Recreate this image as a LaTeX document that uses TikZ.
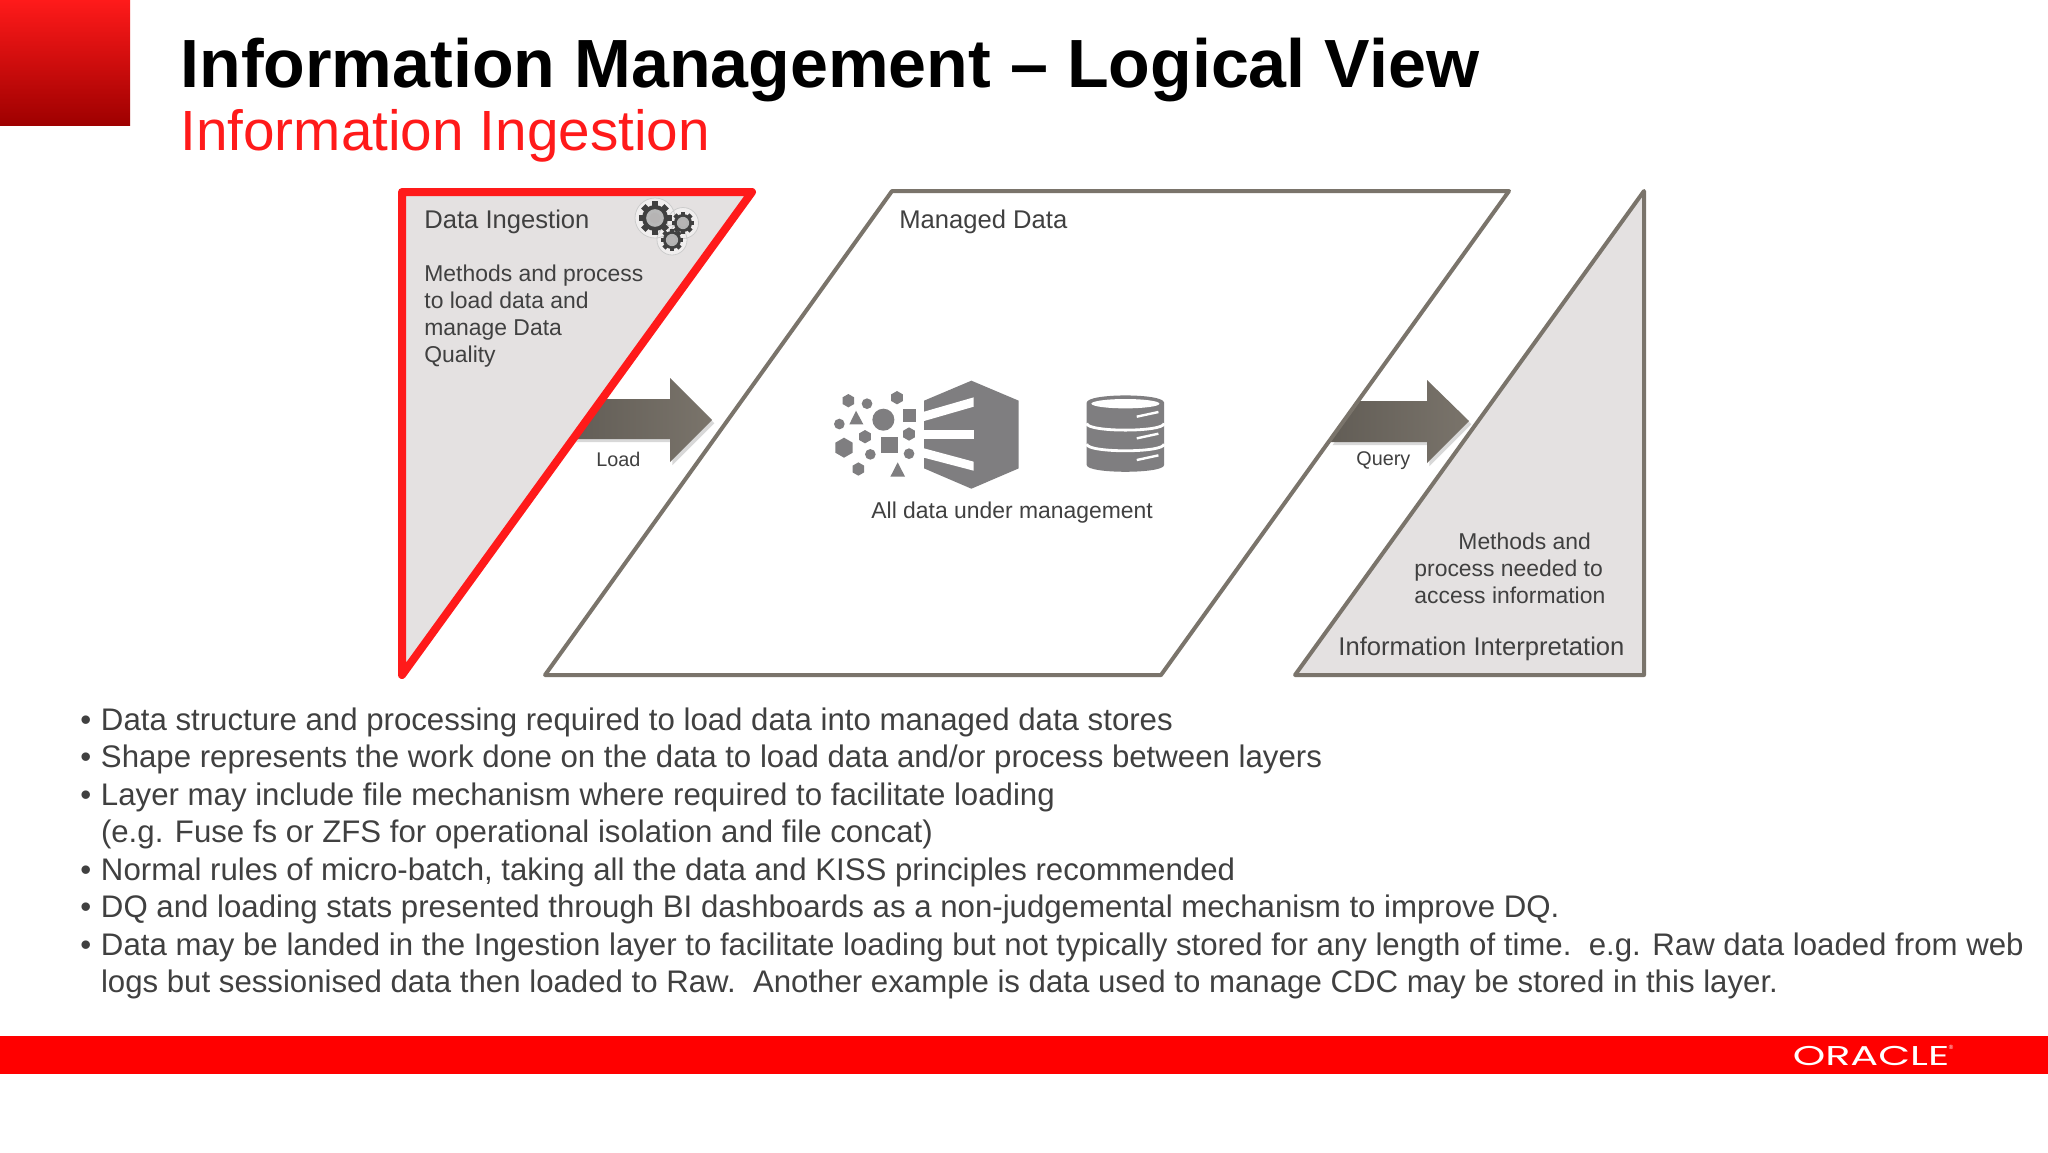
\documentclass[tikz,border=0pt]{standalone}
\usepackage{fontspec}
\setmainfont{Liberation Sans}
\newfontfamily\logofont{Poppins}
\usetikzlibrary{shadows}
\definecolor{oraclered}{RGB}{255,26,26}
\definecolor{shapegray}{RGB}{122,116,107}
\definecolor{panelgray}{RGB}{228,225,225}
\definecolor{icongray}{RGB}{127,126,128}
\definecolor{labelgray}{RGB}{64,64,64}
\tikzset{
  panel/.style={draw=shapegray,line width=2pt,line join=round},
  label12/.style={anchor=base west,inner sep=0pt,text=labelgray,font=\fontsize{12.8}{15}\selectfont},
  body12/.style={anchor=north west,inner sep=0pt,align=left,text=labelgray,font=\fontsize{11.45}{13.5}\selectfont},
  label10/.style={anchor=base west,inner sep=0pt,text=labelgray,font=\fontsize{9.9}{12}\selectfont},
  flowarrow/.style={left color=shapegray!80!black,right color=shapegray,drop shadow={shadow xshift=1.2pt,shadow yshift=-1.6pt,opacity=.3}},
}
\newcommand{\gearicon}[4]{% x, y, radius, hub colour
  \foreach \a in {0,45,...,315}
    \fill[black!75,shift={(#1,#2)},rotate=\a] (#3*.8,-#3*.24) rectangle (#3*1.27,#3*.24);
  \fill[black!75] (#1,#2) circle (#3);
  \fill[#4] (#1,#2) circle (#3*.68);
  \fill[panelgray!80!black] (#1,#2) circle (#3*.42);
}
\begin{document}
\begin{tikzpicture}[x=0.5pt,y=-0.5pt]
  \useasboundingbox[fill=white] (0,0) rectangle (2048,1152);
  % corner and footer
  \shade[top color=oraclered,bottom color=red!62!black] (0,0) rectangle (130,125);
  \fill[red] (0,1036) rectangle (2048,1074);
  \node (logo) [anchor=center,inner sep=0pt,text=white] at (1871,1056)
    {\logofont\scalebox{1.52}[1]{\fontsize{13.6}{14}\selectfont ORACLE}};
  \node (regmark) [anchor=center,inner sep=0pt,text=white,font=\fontsize{3}{3}\selectfont] at (1951,1047) {®};
  % titles
  \node (title) [anchor=base west,inner sep=0pt,font=\fontsize{34.1}{40}\bfseries] at (180,87)
    {Information Management – Logical View};
  \node (subtitle) [anchor=base west,inner sep=0pt,text=oraclered,font=\fontsize{28.35}{34}\selectfont] at (180,150)
    {Information Ingestion};
  % arrows
  \shade[flowarrow] (570,399) -- (670,399) -- (670,378) -- (712,420) -- (670,462) -- (670,439) -- (570,439) -- cycle;
  \shade[flowarrow] (1360,401) -- (1427,401) -- (1427,380) -- (1469,421) -- (1427,463) -- (1427,442) -- (1330,442) -- cycle;
  % panels
  \draw[panel,fill=panelgray,draw=oraclered,line width=4pt] (402,192) -- (752,192) -- (402,675) -- cycle;
  \draw[panel] (892,191) -- (1509,191) -- (1161,675) -- (545,675) -- cycle;
  \draw[panel,fill=panelgray] (1644,191) -- (1644,675) -- (1295,675) -- cycle;
  % panel texts
  \node (ingest) [label12] at (424,228) {Data Ingestion};
  \node (ingesttext) [body12] at (424,264) {Methods and process\\to load data and\\manage Data\\Quality};
  \node (managed) [label12] at (899,228) {Managed Data};
  \node (alldata) [label12,font=\fontsize{11.45}{14}\selectfont] at (871,518) {All data under management};
  \node (load) [label10] at (596,466) {Load};
  \node (query) [label10] at (1356,465) {Query};
  \node (interp) [body12] at (1414,532) {\hspace*{22pt}Methods and\\process needed to\\access information};
  \node (interptitle) [label12] at (1338,655) {Information Interpretation};
  % gears
  \fill[panelgray!55!white,draw=black!20,line width=.4pt] (655,218) circle (20) (683,223) circle (15.5) (672,240) circle (15);
  \gearicon{655}{218}{13}{black!28}
  \gearicon{683}{223}{9}{black!30}
  \gearicon{672}{240}{9}{black!30}
  % data shapes
  \begin{scope}[shift={(800,360)},x=0.1667pt,y=-0.1667pt]
    \fill[icongray] (372,122) -- (514,62) -- (656,122) -- (656,325) -- (514,386) -- (372,325) -- cycle;
    \fill[white] (372,155) -- (521,112) -- (521,140) -- (372,183) -- cycle;
    \fill[white] (372,210) rectangle (521,238);
    \fill[white] (372,265) -- (521,305) -- (521,332) -- (372,293) -- cycle;
    \foreach \px/\py/\r in {145/122/20,291/113/20,195/230/20,327/222/20,132/263/30,175/327/20}
      \fill[icongray] (\px,\py-\r) -- (\px+.87*\r,\py-.5*\r) -- (\px+.87*\r,\py+.5*\r) -- (\px,\py+\r) -- (\px-.87*\r,\py+.5*\r) -- (\px-.87*\r,\py-.5*\r) -- cycle;
    \foreach \px/\py/\r in {201/131/16,118/192/16,250/179/33,211/283/16,327/281/16}
      \fill[icongray] (\px,\py) circle (\r);
    \fill[icongray] (168,152) -- (190,193) -- (148,193) -- cycle;
    \fill[icongray] (293,307) -- (315,350) -- (271,350) -- cycle;
    \fill[icongray] (309,147) rectangle (347,185);
    \fill[icongray] (244,230) rectangle (293,280);
    % database
    \fill[icongray] (860,128) -- (860,315) .. controls (860,342) and (1092,342) .. (1092,315) -- (1092,128) .. controls (1092,99) and (860,99) .. cycle;
    \foreach \py in {190,252}
      \draw[white,line width=1.4pt] (860,\py) .. controls (860,\py+27) and (1092,\py+27) .. (1092,\py);
    \fill[white] (976,131) ellipse (102 and 14);
    \foreach \py in {170,235,300}
      \draw[white,line width=1.2pt] (1010,\py) -- (1075,\py-14);
  \end{scope}
  % bullets
  \node (bullets) [anchor=north west,inner sep=0pt,align=left,text=labelgray,font=\fontsize{15.6}{18.75}\selectfont] at (80,707) {%
    \makebox[10.3pt][l]{•}Data structure and processing required to load data into managed data stores\\
    \makebox[10.3pt][l]{•}Shape represents the work done on the data to load data and/or process between layers\\
    \makebox[10.3pt][l]{•}Layer may include file mechanism where required to facilitate loading\\
    \hspace*{10.3pt}(e.g. Fuse fs or ZFS for operational isolation and file concat)\\
    \makebox[10.3pt][l]{•}Normal rules of micro-batch, taking all the data and KISS principles recommended\\
    \makebox[10.3pt][l]{•}DQ and loading stats presented through BI dashboards as a non-judgemental mechanism to improve DQ.\\
    \makebox[10.3pt][l]{•}Data may be landed in the Ingestion layer to facilitate loading but not typically stored for any length of time.\ \ e.g. Raw data loaded from web\\
    \hspace*{10.3pt}logs but sessionised data then loaded to Raw.\ \ Another example is data used to manage CDC may be stored in this layer.};
\end{tikzpicture}
\end{document}
